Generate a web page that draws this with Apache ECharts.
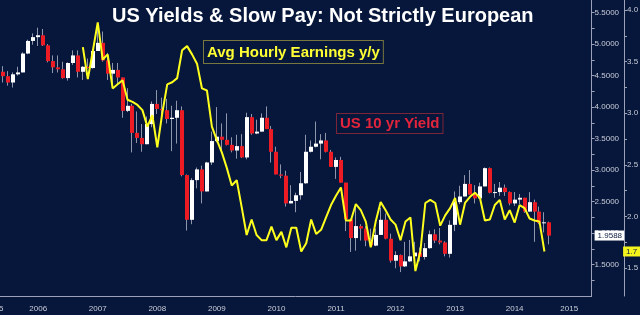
<!DOCTYPE html>
<html><head><meta charset="utf-8">
<script src="https://cdn.jsdelivr.net/npm/echarts@6/dist/echarts.min.js"></script>
<style>html,body{margin:0;padding:0;background:#07173b;overflow:hidden}#c{width:640px;height:315px}</style>
</head><body><div id="c"></div>
<script>
// ---- categories: monthly, Oct 2005 .. Sep 2015 ----
const firstYear = 2005, firstMonth = 10, monthCount = 120;
const categories = [];
for (let k = 0; k < monthCount; k++) {
  const m0 = firstMonth - 1 + k;
  const y = firstYear + Math.floor(m0 / 12), m = (m0 % 12) + 1;
  categories.push(y + '-' + (m < 10 ? '0' + m : '' + m));
}

// ---- US 10 yr Yield monthly candles, Oct 2005 .. Jan 2015 ----
const yieldOpen = [
  4.32, 4.56, 4.49,
  4.39, 4.52, 4.55, 4.85, 5.05, 5.11, 5.14, 4.98, 4.73, 4.63, 4.60, 4.46,
  4.70, 4.82, 4.56, 4.64, 4.62, 4.89, 5.02, 4.74, 4.53, 4.59, 4.47, 3.94,
  4.02, 3.59, 3.51, 3.41, 3.73, 4.05, 3.97, 3.95, 3.81, 3.83, 3.95, 2.92,
  2.21, 2.84, 3.01, 2.66, 3.12, 3.46, 3.53, 3.48, 3.40, 3.31, 3.38, 3.20,
  3.84, 3.58, 3.61, 3.83, 3.65, 3.29, 2.93, 2.91, 2.47, 2.51, 2.60, 2.79,
  3.29, 3.37, 3.42, 3.47, 3.29, 3.05, 3.16, 2.80, 2.22, 1.92, 2.11, 2.07,
  1.88, 1.80, 1.97, 2.21, 1.91, 1.56, 1.65, 1.47, 1.55, 1.63, 1.69, 1.62,
  1.76, 1.98, 1.88, 1.85, 1.67, 2.13, 2.49, 2.58, 2.78, 2.61, 2.55, 2.74,
  3.03, 2.64, 2.65, 2.72, 2.65, 2.47, 2.53, 2.56, 2.34, 2.49, 2.34, 2.16,
  2.17
];
const yieldClose = [
  4.56, 4.49, 4.39,
  4.52, 4.55, 4.85, 5.05, 5.11, 5.14, 4.98, 4.73, 4.63, 4.60, 4.46, 4.70,
  4.82, 4.56, 4.64, 4.62, 4.89, 5.02, 4.74, 4.53, 4.59, 4.47, 3.94, 4.02,
  3.59, 3.51, 3.41, 3.73, 4.05, 3.97, 3.95, 3.81, 3.83, 3.95, 2.92, 2.21,
  2.84, 3.01, 2.66, 3.12, 3.46, 3.53, 3.48, 3.40, 3.31, 3.38, 3.20, 3.84,
  3.58, 3.61, 3.83, 3.65, 3.29, 2.93, 2.91, 2.47, 2.51, 2.60, 2.79, 3.29,
  3.37, 3.42, 3.47, 3.29, 3.05, 3.16, 2.80, 2.22, 1.92, 2.11, 2.07, 1.88,
  1.80, 1.97, 2.21, 1.91, 1.56, 1.65, 1.47, 1.55, 1.63, 1.69, 1.62, 1.76,
  1.98, 1.88, 1.85, 1.67, 2.13, 2.49, 2.58, 2.78, 2.61, 2.55, 2.74, 3.03,
  2.64, 2.65, 2.72, 2.65, 2.47, 2.53, 2.56, 2.34, 2.49, 2.34, 2.16, 2.17,
  1.9588
];
const yieldLow = [
  4.31, 4.39, 4.34,
  4.31, 4.50, 4.55, 4.84, 4.99, 4.97, 4.97, 4.71, 4.54, 4.55, 4.45, 4.42,
  4.67, 4.47, 4.43, 4.61, 4.61, 4.89, 4.72, 4.43, 4.33, 4.35, 3.83, 3.92,
  3.28, 3.43, 3.29, 3.41, 3.68, 3.89, 3.87, 3.74, 3.30, 3.42, 2.90, 2.04,
  2.14, 2.71, 2.47, 2.66, 3.08, 3.44, 3.28, 3.39, 3.28, 3.18, 3.19, 3.17,
  3.56, 3.57, 3.61, 3.66, 3.12, 2.93, 2.87, 2.42, 2.47, 2.33, 2.53, 2.78,
  3.28, 3.36, 3.17, 3.28, 3.05, 2.86, 2.80, 2.03, 1.70, 1.72, 1.88, 1.79,
  1.80, 1.79, 1.97, 1.90, 1.53, 1.44, 1.38, 1.46, 1.54, 1.59, 1.55, 1.58,
  1.75, 1.84, 1.82, 1.63, 1.61, 2.03, 2.46, 2.58, 2.61, 2.47, 2.54, 2.74,
  2.63, 2.56, 2.59, 2.59, 2.44, 2.43, 2.46, 2.32, 2.34, 1.86, 2.14, 2.01,
  1.82
];
const yieldHigh = [
  4.61, 4.65, 4.57,
  4.55, 4.64, 4.87, 5.07, 5.17, 5.26, 5.24, 5.00, 4.82, 4.82, 4.72, 4.71,
  4.90, 4.90, 4.65, 4.77, 4.90, 5.32, 5.20, 4.86, 4.70, 4.70, 4.47, 4.30,
  4.05, 3.93, 3.73, 3.85, 4.09, 4.27, 4.15, 4.13, 4.02, 4.10, 4.01, 2.93,
  2.87, 3.04, 3.07, 3.13, 3.61, 4.00, 3.74, 3.90, 3.52, 3.56, 3.57, 3.91,
  3.89, 3.80, 3.90, 4.01, 3.70, 3.37, 3.09, 2.99, 2.76, 2.64, 2.97, 3.56,
  3.47, 3.77, 3.57, 3.59, 3.32, 3.20, 3.21, 2.80, 2.23, 2.43, 2.14, 2.11,
  2.07, 2.07, 2.40, 2.31, 1.99, 1.71, 1.66, 1.86, 1.89, 1.86, 1.77, 1.84,
  2.04, 2.06, 2.08, 1.87, 2.20, 2.66, 2.75, 2.92, 3.00, 2.76, 2.80, 3.04,
  3.04, 2.78, 2.81, 2.77, 2.66, 2.65, 2.62, 2.56, 2.65, 2.53, 2.42, 2.33,
  2.18
];

// ---- Avg Hourly Earnings y/y, Mar 2007 .. Dec 2014 ----
const earningsStart = '2007-03';
const earnings = [
  3.64, 3.33, 3.60, 3.88, 3.52, 3.57, 3.24, 3.28, 3.32, 3.13,
  3.11, 3.08, 3.03, 2.87, 2.98, 2.67, 3.00, 3.28, 3.30, 3.34, 3.61, 3.65,
  3.57, 3.48, 3.24, 3.22, 2.87, 2.74, 2.62, 2.47, 2.30, 2.35, 2.09, 1.82,
  1.97, 1.82, 1.77, 1.77, 1.90, 1.77, 1.85, 1.70, 1.89, 1.89, 1.66, 1.74,
  1.97, 1.83, 1.87, 1.99, 2.11, 2.20, 2.28, 1.96, 1.96, 2.12, 2.06, 1.95,
  1.70, 1.95, 2.14, 2.06, 1.97, 1.92, 1.77, 1.95, 1.99, 1.47, 1.66, 2.13,
  2.16, 2.13, 1.91, 2.01, 2.08, 2.18, 1.92, 2.13, 2.19, 2.23, 2.18, 1.96,
  1.97, 2.11, 2.16, 1.97, 2.06, 1.94, 2.11, 2.08, 1.98, 1.96, 1.95, 1.66
];

// ---- axis tick values ----
const yieldTickStep = 0.25, yieldLabelStep = 0.5;
const earnTicks = [1.5, 1.75, 2.0, 2.25, 2.5, 2.75, 3.0, 3.25, 3.5, 3.75, 4.0];
const earnLabels = [1.5, 2.0, 2.5, 3.0, 3.5, 4.0];

const candleData = yieldOpen.map((o, i) => [i, o, yieldClose[i], yieldLow[i], yieldHigh[i]]);
const eStart = categories.indexOf(earningsStart);
const earnData = categories.map((c, i) => (i >= eStart && i < eStart + earnings.length) ? earnings[i - eStart] : null);
const lastYield = yieldClose[yieldClose.length - 1];
const lastEarn = earnings[earnings.length - 1];

const axisCol = '#9ca2b8', labCol = '#c9ccd8', FONT = '"Liberation Sans", Arial, sans-serif';

function renderCandle(params, api) {
  const x = api.value(0), o = api.value(1), c = api.value(2), l = api.value(3), h = api.value(4);
  const pO = api.coord([x, o]), pC = api.coord([x, c]), pL = api.coord([x, l]), pH = api.coord([x, h]);
  const x0 = Math.round(pO[0] - 2);
  const top = Math.min(pO[1], pC[1]), bot = Math.max(pO[1], pC[1]);
  const up = c >= o;
  return {
    type: 'group', children: [
      { type: 'line', shape: { x1: x0 + 1.5, y1: pH[1], x2: x0 + 1.5, y2: pL[1] }, style: { stroke: '#8f95aa', lineWidth: 1 } },
      { type: 'rect', shape: { x: x0, y: top, width: 4, height: Math.max(bot - top, 1) }, style: { fill: up ? '#ffffff' : '#ec1b24', stroke: null } }
    ]
  };
}

const chart = echarts.init(document.getElementById('c'), null, { renderer: 'canvas' });
chart.setOption({
  backgroundColor: '#07173b',
  animation: false,
  title: {
    text: 'US Yields & Slow Pay: Not Strictly European',
    left: 107, top: 1,
    textStyle: { color: '#ffffff', fontSize: 20, fontWeight: 'bold', fontFamily: FONT }
  },
  grid: { left: -4, right: 48.4, top: 0, bottom: 19, containLabel: false, outerBoundsMode: 'none' },
  xAxis: [{
    type: 'category', data: categories, boundaryGap: true, position: 'bottom',
    axisLine: { lineStyle: { color: axisCol, width: 1 } },
    axisTick: { alignWithLabel: true, length: 19, interval: (i, v) => v.slice(5) === '12', lineStyle: { color: '#8c93ad' } },
    axisLabel: {
      interval: (i, v) => (v.slice(5) === '06' && v < '2015') || v === '2015-05' || v === '2005-10',
      formatter: v => v === '2005-10' ? '{f|2005}' : v.slice(0, 4),
      rich: { f: { padding: [0, 8, 0, 0], color: labCol, fontSize: 8, fontFamily: FONT } },
      margin: 9, color: labCol, fontSize: 8, fontFamily: FONT, hideOverlap: false
    },
    splitLine: { show: false }
  }, {
    type: 'category', data: categories, boundaryGap: true, position: 'bottom',
    axisLine: { show: false },
    axisTick: { inside: true, alignWithLabel: true, length: 3, interval: (i, v) => ['03', '06', '09'].indexOf(v.slice(5)) >= 0, lineStyle: { color: axisCol } },
    axisLabel: { show: false }, splitLine: { show: false }
  }],
  yAxis: [{
    type: 'value', position: 'right', min: 1.0, max: 5.7, interval: yieldTickStep,
    axisLine: { show: true, lineStyle: { color: axisCol } },
    axisTick: { show: true, length: 3, lineStyle: { color: axisCol } },
    axisLabel: {
      showMinLabel: false, showMaxLabel: false, margin: 3, color: labCol, fontSize: 8, fontFamily: FONT,
      formatter: v => (Math.abs(v / yieldLabelStep - Math.round(v / yieldLabelStep)) < 1e-6) ? v.toFixed(4) : ''
    },
    splitLine: { show: false }
  }, {
    type: 'value', position: 'right', offset: 32.4, min: 1.2287, max: 4.0969,
    axisLine: { show: true, lineStyle: { color: axisCol } },
    axisTick: { show: true, length: 3, customValues: earnTicks, lineStyle: { color: axisCol } },
    axisLabel: { customValues: earnLabels, margin: 3, color: labCol, fontSize: 8, fontFamily: FONT, formatter: v => v.toFixed(1) },
    splitLine: { show: false }
  }],
  series: [{
    name: 'US 10 yr Yield', type: 'custom', xAxisIndex: 0, yAxisIndex: 0,
    renderItem: renderCandle, data: candleData, encode: { x: 0, y: [1, 2, 3, 4] }, z: 2,
    markLine: {
      silent: true, symbol: 'none', animation: false,
      lineStyle: { width: 1, color: 'rgba(0,0,0,0)', type: 'solid' },
      data: [{ yAxis: lastYield }],
      label: { show: true, position: 'end', distance: 3, formatter: () => lastYield.toFixed(4), backgroundColor: '#ffffff', color: '#0b1b3f', fontSize: 8, fontFamily: FONT, padding: [1, 2, 1, 3] }
    }
  }, {
    name: 'Avg Hourly Earnings y/y', type: 'line', xAxisIndex: 0, yAxisIndex: 1,
    data: earnData, showSymbol: false, symbol: 'none', connectNulls: false, z: 3,
    lineStyle: { color: '#ffff1e', width: 2 },
    markLine: {
      silent: true, symbol: 'none', animation: false,
      lineStyle: { width: 1, color: 'rgba(0,0,0,0)', type: 'solid' },
      data: [{ yAxis: lastEarn }],
      label: { show: true, position: 'end', distance: 31.5, formatter: () => lastEarn.toFixed(1), backgroundColor: '#f5f51e', color: '#0b1b3f', fontSize: 8, fontFamily: FONT, padding: [1, 4, 1, 3] }
    }
  }],
  graphic: [{
    type: 'text', left: 203, top: 40, z: 10,
    style: { text: 'Avg Hourly Earnings y/y', fill: '#ffff33', font: 'bold 15px ' + FONT, backgroundColor: '#07173b', borderColor: '#77773e', borderWidth: 1, padding: [3, 3, 2, 3], lineHeight: 17 }
  }, {
    type: 'text', left: 336, top: 113, z: 10,
    style: { text: 'US 10 yr Yield', fill: '#e2243c', font: 'bold 15px ' + FONT, backgroundColor: '#07173b', borderColor: '#7c2438', borderWidth: 1, padding: [2, 3, 1, 3], lineHeight: 16 }
  }]
});
</script></body></html>
